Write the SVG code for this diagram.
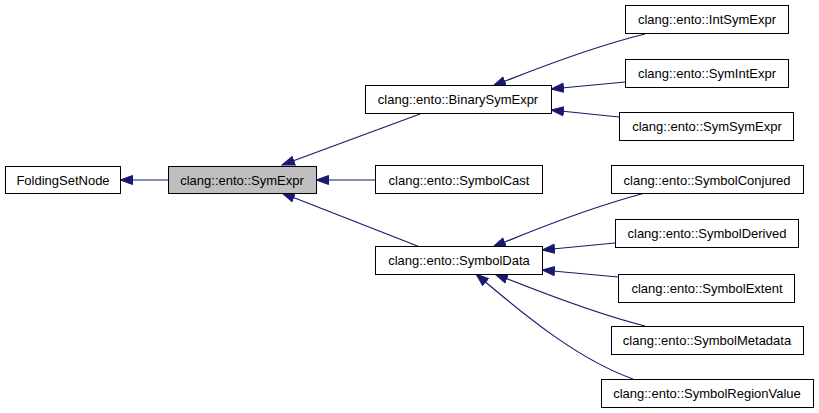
<svg xmlns="http://www.w3.org/2000/svg" width="819" height="413" viewBox="0 0 819 413">
<style>
.n rect{fill:#fff;stroke:#000;stroke-width:1}
.n text{font-family:"Liberation Sans",Arial,sans-serif;font-size:13px;text-anchor:middle;fill:#000}
.e path{fill:none;stroke:#191970;stroke-width:1.2;marker-end:url(#ah)}
</style>
<defs>
<marker id="ah" markerUnits="userSpaceOnUse" markerWidth="14" markerHeight="11" viewBox="0 0 14 11" refX="13" refY="5.5" orient="auto">
<path d="M0.5,1 L13,5.5 L0.5,10 z" fill="#191970" stroke="#191970" stroke-width="1"/>
</marker>
</defs>
<rect width="819" height="413" fill="#fff"/>
<g class="e" id="edges">
<path d="M168,180 L120,180"/>
<path d="M420,114 L282,165"/>
<path d="M375,180 L316,180"/>
<path d="M420,247 L282,193"/>
<path d="M645,34 C600,45 550,63 493,86"/>
<path d="M625,82 L551,89"/>
<path d="M619,117 L551,110"/>
<path d="M645,193 C600,205 550,223 493,247"/>
<path d="M615,243 L542,250"/>
<path d="M618,277 L542,270"/>
<path d="M645,326 C600,315 550,296 495,274"/>
<path d="M633,379 C580,360 530,320 476,274"/>
</g>
<g class="n" id="FoldingSetNode"><rect x="5.5" y="166.5" width="115" height="27"/><text x="63" y="184.5">FoldingSetNode</text></g>
<g class="n" id="SymExpr"><rect x="168.5" y="166.5" width="148" height="27" style="fill:#bfbfbf"/><text x="242" y="184.5">clang::ento::SymExpr</text></g>
<g class="n" id="BinarySymExpr"><rect x="365.5" y="85.5" width="186" height="28"/><text x="458" y="104">clang::ento::BinarySymExpr</text></g>
<g class="n" id="SymbolCast"><rect x="375.5" y="165.5" width="167" height="28"/><text x="459" y="184.5">clang::ento::SymbolCast</text></g>
<g class="n" id="SymbolData"><rect x="375.5" y="246.5" width="167" height="28"/><text x="459" y="265">clang::ento::SymbolData</text></g>
<g class="n" id="IntSymExpr"><rect x="625.5" y="5.5" width="163" height="28"/><text x="707" y="24">clang::ento::IntSymExpr</text></g>
<g class="n" id="SymIntExpr"><rect x="625.5" y="59.5" width="163" height="28"/><text x="707" y="78">clang::ento::SymIntExpr</text></g>
<g class="n" id="SymSymExpr"><rect x="619.5" y="112.5" width="174" height="28"/><text x="707" y="131">clang::ento::SymSymExpr</text></g>
<g class="n" id="SymbolConjured"><rect x="611.5" y="165.5" width="192" height="28"/><text x="707" y="184.5">clang::ento::SymbolConjured</text></g>
<g class="n" id="SymbolDerived"><rect x="615.5" y="219.5" width="183" height="28"/><text x="707" y="238">clang::ento::SymbolDerived</text></g>
<g class="n" id="SymbolExtent"><rect x="618.5" y="274.5" width="176" height="28"/><text x="707" y="293">clang::ento::SymbolExtent</text></g>
<g class="n" id="SymbolMetadata"><rect x="611.5" y="326.5" width="192" height="28"/><text x="707" y="345">clang::ento::SymbolMetadata</text></g>
<g class="n" id="SymbolRegionValue"><rect x="601.5" y="379.5" width="212" height="28"/><text x="707" y="398">clang::ento::SymbolRegionValue</text></g>
</svg>
